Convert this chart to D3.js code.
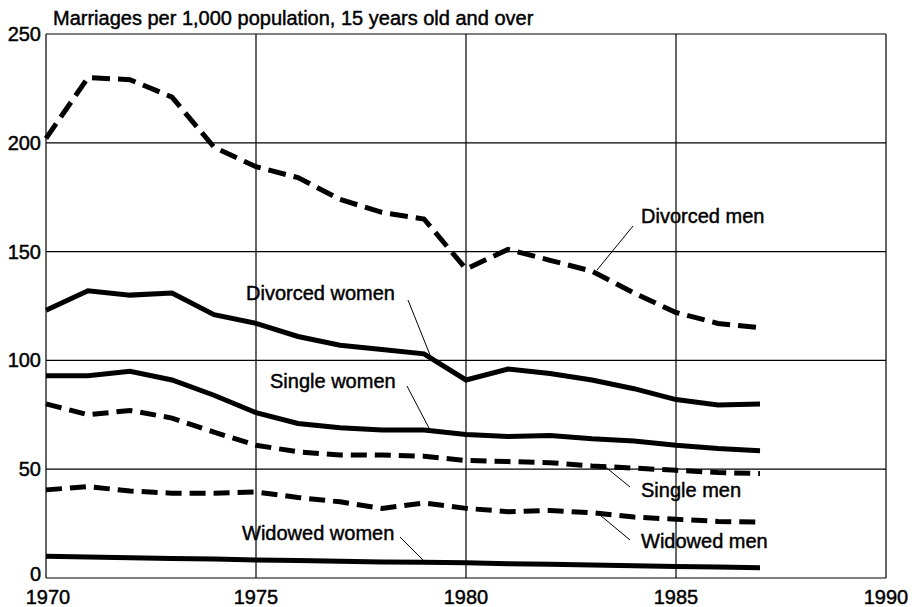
<!DOCTYPE html>
<html>
<head>
<meta charset="utf-8">
<script src="https://cdn.jsdelivr.net/npm/d3@7"></script>
<style>
  body { margin: 0; background: #fff; }
  text { font-family: "Liberation Sans", Arial, sans-serif; fill: #000; stroke: #000; stroke-width: 0.45; }
</style>
</head>
<body>
<script>
const years = [1970, 1971, 1972, 1973, 1974, 1975, 1976, 1977, 1978, 1979, 1980, 1981, 1982, 1983, 1984, 1985, 1986, 1987];
const divorcedMen = [202, 230, 229, 221, 198, 189, 184, 174, 168, 165, 142, 151, 146, 141, 131, 122, 117, 115];
const divorcedWomen = [123, 132, 130, 131, 121, 117, 111, 107, 105, 103, 91, 96, 94, 91, 87, 82, 79.5, 80];
const singleWomen = [93, 93, 95, 91, 84, 76, 71, 69, 68, 68, 66, 65, 65.5, 64, 63, 61, 59.5, 58.5];
const singleMen = [80, 75, 77, 73.5, 67, 61, 58, 56.5, 56.5, 56, 54, 53.5, 53, 51.5, 50.5, 49.5, 48.5, 48];
const widowedMen = [40.5, 42, 40, 39, 39, 39.5, 37, 35, 32, 34.5, 32, 30.5, 31, 30, 28, 27, 26, 25.7];
const widowedWomen = [10, 9.7, 9.3, 9, 8.7, 8.3, 8, 7.7, 7.3, 7.2, 7, 6.6, 6.3, 6, 5.6, 5.3, 5, 4.7];
const xTicks = [1970, 1975, 1980, 1985, 1990];
const yTicks = [0, 50, 100, 150, 200, 250];
const title = "Marriages per 1,000 population, 15 years old and over";

const w = 918, h = 607;
const svg = d3.select("body").append("svg").attr("width", w).attr("height", h);

const x = d3.scaleLinear().domain([1970, 1990]).range([46, 886]);
const y = d3.scaleLinear().domain([0, 250]).range([578, 34]);

// grid + frame
svg.append("g").selectAll("line").data(yTicks).enter().append("line")
  .attr("x1", x(1970)).attr("x2", x(1990))
  .attr("y1", d => y(d)).attr("y2", d => y(d))
  .attr("stroke", "#000").attr("stroke-width", 1.2);
svg.append("g").selectAll("line").data(xTicks).enter().append("line")
  .attr("x1", d => x(d)).attr("x2", d => x(d))
  .attr("y1", y(0)).attr("y2", y(250))
  .attr("stroke", "#000").attr("stroke-width", 1.2);

// axis labels ("0" sits a bit higher so it clears "1970")
svg.append("g").selectAll("text").data(yTicks).enter().append("text")
  .attr("x", 41).attr("y", d => y(d) + (d === 0 ? 3 : 7))
  .attr("text-anchor", "end").style("font-size", "20px")
  .text(d => d);
svg.append("g").selectAll("text").data(xTicks).enter().append("text")
  .attr("x", d => x(d) + (d === 1970 ? 2 : 0)).attr("y", 604)
  .attr("text-anchor", "middle").style("font-size", "20px")
  .text(d => d);

svg.append("text").attr("x", 53).attr("y", 25).style("font-size", "20px").text(title);

const line = d3.line().x((d, i) => x(years[i])).y(d => y(d));
const series = [
  {vals: divorcedMen, dash: "18,8"},
  {vals: divorcedWomen, dash: null},
  {vals: singleWomen, dash: null},
  {vals: singleMen, dash: "16,8"},
  {vals: widowedMen, dash: "16,8"},
  {vals: widowedWomen, dash: null}
];
svg.append("g").selectAll("path").data(series).enter().append("path")
  .attr("d", d => line(d.vals))
  .attr("fill", "none").attr("stroke", "#000")
  .attr("stroke-width", 5)
  .attr("stroke-dasharray", d => d.dash);

// labels with leader lines
const labels = [
  {t: "Divorced men", tx: 641, ty: 223, l: [633, 226, 597, 270]},
  {t: "Divorced women", tx: 246, ty: 300, l: [408, 300, 430, 355]},
  {t: "Single women", tx: 270, ty: 388, l: [407, 386, 430, 430]},
  {t: "Single men", tx: 641, ty: 497, l: [630, 487, 603, 465]},
  {t: "Widowed men", tx: 641, ty: 548, l: [630, 540, 600, 515]},
  {t: "Widowed women", tx: 242, ty: 540, l: [400, 537, 423, 560]}
];
labels.forEach(d => {
  svg.append("text").attr("x", d.tx).attr("y", d.ty).style("font-size", "20px").text(d.t);
  svg.append("line").attr("x1", d.l[0]).attr("y1", d.l[1]).attr("x2", d.l[2]).attr("y2", d.l[3])
    .attr("stroke", "#000").attr("stroke-width", 1);
});
</script>
</body>
</html>
